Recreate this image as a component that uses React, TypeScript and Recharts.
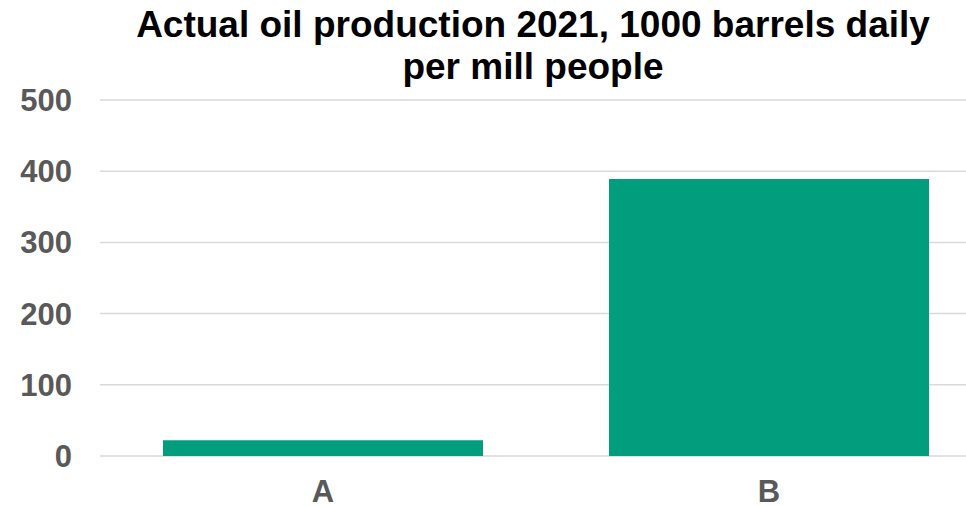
import React from "react";
import { BarChart, Bar, XAxis, YAxis, CartesianGrid } from "recharts";

const categories = ["A", "B"];
const values = [22, 389];
const yTicks = [0, 100, 200, 300, 400, 500];
const titleLines = ["Actual oil production 2021, 1000 barrels daily", "per mill people"];

const data = categories.map((c, i) => ({ name: c, value: values[i] }));

const FONT = "'Liberation Sans', Arial, sans-serif";

export default function App() {
  return (
    <div
      style={{
        position: "absolute",
        left: 0,
        top: 0,
        width: 966,
        height: 506,
        overflow: "hidden",
        background: "#ffffff",
        fontFamily: FONT,
      }}
    >
      <BarChart
        width={992}
        height={506}
        data={data}
        margin={{ top: 100, right: 0, bottom: 0, left: 0 }}
      >
        <CartesianGrid vertical={false} stroke="#d9d9d9" strokeWidth={1.5} />
        <XAxis
          dataKey="name"
          height={50}
          axisLine={false}
          tickLine={false}
          tickSize={0}
          tickMargin={24}
          tick={{ fill: "#595959", fontSize: 31, fontWeight: 700, fontFamily: FONT }}
        />
        <YAxis
          width={100}
          domain={[0, 500]}
          ticks={yTicks}
          axisLine={false}
          tickLine={false}
          tickSize={0}
          tickMargin={28}
          tick={{ fill: "#595959", fontSize: 31, fontWeight: 700, fontFamily: FONT }}
        />
        <Bar dataKey="value" fill="#029d7d" barSize={320} isAnimationActive={false} />
      </BarChart>
      <div
        style={{
          position: "absolute",
          left: 100,
          top: 4,
          width: 866,
          textAlign: "center",
          fontSize: 37,
          fontWeight: 700,
          lineHeight: "42px",
          color: "#000000",
          fontFamily: FONT,
          pointerEvents: "none",
        }}
      >
        {titleLines.map((t) => (
          <div key={t}>{t}</div>
        ))}
      </div>
    </div>
  );
}
